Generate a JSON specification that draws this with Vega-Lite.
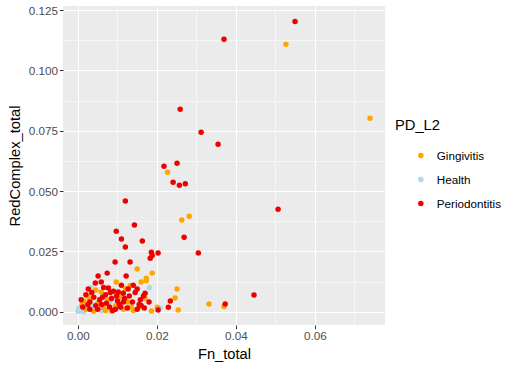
{
  "$schema": "https://vega.github.io/schema/vega-lite/v6.json",
  "width": 322,
  "height": 319,
  "autosize": {"type": "none"},
  "padding": {"left": 63, "top": 6, "right": 136, "bottom": 46},
  "background": "white",
  "config": {
    "view": {"fill": "#EBEBEB", "stroke": null},
    "font": "Liberation Sans",
    "axis": {
      "gridColor": "white",
      "domain": false,
      "tickColor": "#333333",
      "tickSize": 3.6,
      "labelColor": "#4D4D4D",
      "labelFontSize": 11.7,
      "labelFont": "Liberation Sans",
      "titleFont": "Liberation Sans",
      "titleFontSize": 14.7,
      "titleFontWeight": "normal",
      "titleColor": "black"
    }
  },
  "data": {
    "values": [
      {"Fn_total": 0.0000, "RedComplex_total": 0.0002, "PD_L2": "Health"},
      {"Fn_total": 0.0005, "RedComplex_total": 0.0008, "PD_L2": "Health"},
      {"Fn_total": 0.0010, "RedComplex_total": 0.0004, "PD_L2": "Health"},
      {"Fn_total": 0.0002, "RedComplex_total": 0.0015, "PD_L2": "Health"},
      {"Fn_total": 0.0035, "RedComplex_total": 0.0029, "PD_L2": "Health"},
      {"Fn_total": 0.0048, "RedComplex_total": 0.0022, "PD_L2": "Health"},
      {"Fn_total": 0.0034, "RedComplex_total": 0.0098, "PD_L2": "Health"},
      {"Fn_total": 0.0181, "RedComplex_total": 0.0099, "PD_L2": "Health"},
      {"Fn_total": 0.0208, "RedComplex_total": 0.0015, "PD_L2": "Health"},
      {"Fn_total": 0.0080, "RedComplex_total": 0.0040, "PD_L2": "Health"},
      {"Fn_total": 0.0110, "RedComplex_total": 0.0015, "PD_L2": "Health"},
      {"Fn_total": 0.0015, "RedComplex_total": 0.0001, "PD_L2": "Health"},
      {"Fn_total": 0.0060, "RedComplex_total": 0.0005, "PD_L2": "Health"},
      {"Fn_total": 0.0090, "RedComplex_total": 0.0062, "PD_L2": "Health"},
      {"Fn_total": 0.0130, "RedComplex_total": 0.0030, "PD_L2": "Health"},
      {"Fn_total": 0.0010, "RedComplex_total": 0.0030, "PD_L2": "Gingivitis"},
      {"Fn_total": 0.0020, "RedComplex_total": 0.0010, "PD_L2": "Gingivitis"},
      {"Fn_total": 0.0030, "RedComplex_total": 0.0050, "PD_L2": "Gingivitis"},
      {"Fn_total": 0.0040, "RedComplex_total": 0.0002, "PD_L2": "Gingivitis"},
      {"Fn_total": 0.0050, "RedComplex_total": 0.0035, "PD_L2": "Gingivitis"},
      {"Fn_total": 0.0059, "RedComplex_total": 0.0082, "PD_L2": "Gingivitis"},
      {"Fn_total": 0.0065, "RedComplex_total": 0.0015, "PD_L2": "Gingivitis"},
      {"Fn_total": 0.0075, "RedComplex_total": 0.0050, "PD_L2": "Gingivitis"},
      {"Fn_total": 0.0085, "RedComplex_total": 0.0002, "PD_L2": "Gingivitis"},
      {"Fn_total": 0.0095, "RedComplex_total": 0.0025, "PD_L2": "Gingivitis"},
      {"Fn_total": 0.0097, "RedComplex_total": 0.0123, "PD_L2": "Gingivitis"},
      {"Fn_total": 0.0105, "RedComplex_total": 0.0060, "PD_L2": "Gingivitis"},
      {"Fn_total": 0.0115, "RedComplex_total": 0.0010, "PD_L2": "Gingivitis"},
      {"Fn_total": 0.0125, "RedComplex_total": 0.0040, "PD_L2": "Gingivitis"},
      {"Fn_total": 0.0132, "RedComplex_total": 0.0109, "PD_L2": "Gingivitis"},
      {"Fn_total": 0.0140, "RedComplex_total": 0.0005, "PD_L2": "Gingivitis"},
      {"Fn_total": 0.0150, "RedComplex_total": 0.0177, "PD_L2": "Gingivitis"},
      {"Fn_total": 0.0155, "RedComplex_total": 0.0020, "PD_L2": "Gingivitis"},
      {"Fn_total": 0.0173, "RedComplex_total": 0.0139, "PD_L2": "Gingivitis"},
      {"Fn_total": 0.0173, "RedComplex_total": 0.0128, "PD_L2": "Gingivitis"},
      {"Fn_total": 0.0160, "RedComplex_total": 0.0123, "PD_L2": "Gingivitis"},
      {"Fn_total": 0.0188, "RedComplex_total": 0.0160, "PD_L2": "Gingivitis"},
      {"Fn_total": 0.0186, "RedComplex_total": 0.0003, "PD_L2": "Gingivitis"},
      {"Fn_total": 0.0201, "RedComplex_total": 0.0019, "PD_L2": "Gingivitis"},
      {"Fn_total": 0.0251, "RedComplex_total": 0.0094, "PD_L2": "Gingivitis"},
      {"Fn_total": 0.0246, "RedComplex_total": 0.0057, "PD_L2": "Gingivitis"},
      {"Fn_total": 0.0254, "RedComplex_total": 0.0007, "PD_L2": "Gingivitis"},
      {"Fn_total": 0.0332, "RedComplex_total": 0.0032, "PD_L2": "Gingivitis"},
      {"Fn_total": 0.0370, "RedComplex_total": 0.0022, "PD_L2": "Gingivitis"},
      {"Fn_total": 0.0227, "RedComplex_total": 0.0578, "PD_L2": "Gingivitis"},
      {"Fn_total": 0.0263, "RedComplex_total": 0.0380, "PD_L2": "Gingivitis"},
      {"Fn_total": 0.0282, "RedComplex_total": 0.0396, "PD_L2": "Gingivitis"},
      {"Fn_total": 0.0527, "RedComplex_total": 0.1108, "PD_L2": "Gingivitis"},
      {"Fn_total": 0.0740, "RedComplex_total": 0.0802, "PD_L2": "Gingivitis"},
      {"Fn_total": 0.0025, "RedComplex_total": 0.0065, "PD_L2": "Gingivitis"},
      {"Fn_total": 0.0045, "RedComplex_total": 0.0090, "PD_L2": "Gingivitis"},
      {"Fn_total": 0.0070, "RedComplex_total": 0.0005, "PD_L2": "Gingivitis"},
      {"Fn_total": 0.0110, "RedComplex_total": 0.0075, "PD_L2": "Gingivitis"},
      {"Fn_total": 0.0135, "RedComplex_total": 0.0020, "PD_L2": "Gingivitis"},
      {"Fn_total": 0.0015, "RedComplex_total": 0.0045, "PD_L2": "Gingivitis"},
      {"Fn_total": 0.0170, "RedComplex_total": 0.0055, "PD_L2": "Gingivitis"},
      {"Fn_total": 0.0120, "RedComplex_total": 0.0095, "PD_L2": "Gingivitis"},
      {"Fn_total": 0.0550, "RedComplex_total": 0.1203, "PD_L2": "Periodontitis"},
      {"Fn_total": 0.0370, "RedComplex_total": 0.1129, "PD_L2": "Periodontitis"},
      {"Fn_total": 0.0259, "RedComplex_total": 0.0839, "PD_L2": "Periodontitis"},
      {"Fn_total": 0.0312, "RedComplex_total": 0.0744, "PD_L2": "Periodontitis"},
      {"Fn_total": 0.0355, "RedComplex_total": 0.0694, "PD_L2": "Periodontitis"},
      {"Fn_total": 0.0218, "RedComplex_total": 0.0603, "PD_L2": "Periodontitis"},
      {"Fn_total": 0.0251, "RedComplex_total": 0.0615, "PD_L2": "Periodontitis"},
      {"Fn_total": 0.0241, "RedComplex_total": 0.0537, "PD_L2": "Periodontitis"},
      {"Fn_total": 0.0257, "RedComplex_total": 0.0524, "PD_L2": "Periodontitis"},
      {"Fn_total": 0.0272, "RedComplex_total": 0.0530, "PD_L2": "Periodontitis"},
      {"Fn_total": 0.0507, "RedComplex_total": 0.0425, "PD_L2": "Periodontitis"},
      {"Fn_total": 0.0163, "RedComplex_total": 0.0293, "PD_L2": "Periodontitis"},
      {"Fn_total": 0.0269, "RedComplex_total": 0.0309, "PD_L2": "Periodontitis"},
      {"Fn_total": 0.0186, "RedComplex_total": 0.0247, "PD_L2": "Periodontitis"},
      {"Fn_total": 0.0188, "RedComplex_total": 0.0233, "PD_L2": "Periodontitis"},
      {"Fn_total": 0.0183, "RedComplex_total": 0.0222, "PD_L2": "Periodontitis"},
      {"Fn_total": 0.0203, "RedComplex_total": 0.0243, "PD_L2": "Periodontitis"},
      {"Fn_total": 0.0305, "RedComplex_total": 0.0243, "PD_L2": "Periodontitis"},
      {"Fn_total": 0.0170, "RedComplex_total": 0.0077, "PD_L2": "Periodontitis"},
      {"Fn_total": 0.0166, "RedComplex_total": 0.0065, "PD_L2": "Periodontitis"},
      {"Fn_total": 0.0234, "RedComplex_total": 0.0044, "PD_L2": "Periodontitis"},
      {"Fn_total": 0.0229, "RedComplex_total": 0.0019, "PD_L2": "Periodontitis"},
      {"Fn_total": 0.0373, "RedComplex_total": 0.0032, "PD_L2": "Periodontitis"},
      {"Fn_total": 0.0446, "RedComplex_total": 0.0069, "PD_L2": "Periodontitis"},
      {"Fn_total": 0.0203, "RedComplex_total": 0.0007, "PD_L2": "Periodontitis"},
      {"Fn_total": 0.0168, "RedComplex_total": 0.0015, "PD_L2": "Periodontitis"},
      {"Fn_total": 0.0160, "RedComplex_total": 0.0026, "PD_L2": "Periodontitis"},
      {"Fn_total": 0.0120, "RedComplex_total": 0.0459, "PD_L2": "Periodontitis"},
      {"Fn_total": 0.0143, "RedComplex_total": 0.0359, "PD_L2": "Periodontitis"},
      {"Fn_total": 0.0097, "RedComplex_total": 0.0334, "PD_L2": "Periodontitis"},
      {"Fn_total": 0.0110, "RedComplex_total": 0.0301, "PD_L2": "Periodontitis"},
      {"Fn_total": 0.0120, "RedComplex_total": 0.0268, "PD_L2": "Periodontitis"},
      {"Fn_total": 0.0094, "RedComplex_total": 0.0206, "PD_L2": "Periodontitis"},
      {"Fn_total": 0.0132, "RedComplex_total": 0.0206, "PD_L2": "Periodontitis"},
      {"Fn_total": 0.0074, "RedComplex_total": 0.0160, "PD_L2": "Periodontitis"},
      {"Fn_total": 0.0051, "RedComplex_total": 0.0148, "PD_L2": "Periodontitis"},
      {"Fn_total": 0.0122, "RedComplex_total": 0.0148, "PD_L2": "Periodontitis"},
      {"Fn_total": 0.0059, "RedComplex_total": 0.0123, "PD_L2": "Periodontitis"},
      {"Fn_total": 0.0044, "RedComplex_total": 0.0119, "PD_L2": "Periodontitis"},
      {"Fn_total": 0.0127, "RedComplex_total": 0.0094, "PD_L2": "Periodontitis"},
      {"Fn_total": 0.0150, "RedComplex_total": 0.0094, "PD_L2": "Periodontitis"},
      {"Fn_total": 0.0026, "RedComplex_total": 0.0094, "PD_L2": "Periodontitis"},
      {"Fn_total": 0.0077, "RedComplex_total": 0.0098, "PD_L2": "Periodontitis"},
      {"Fn_total": 0.0102, "RedComplex_total": 0.0082, "PD_L2": "Periodontitis"},
      {"Fn_total": 0.0115, "RedComplex_total": 0.0077, "PD_L2": "Periodontitis"},
      {"Fn_total": 0.0020, "RedComplex_total": 0.0070, "PD_L2": "Periodontitis"},
      {"Fn_total": 0.0030, "RedComplex_total": 0.0040, "PD_L2": "Periodontitis"},
      {"Fn_total": 0.0040, "RedComplex_total": 0.0060, "PD_L2": "Periodontitis"},
      {"Fn_total": 0.0050, "RedComplex_total": 0.0010, "PD_L2": "Periodontitis"},
      {"Fn_total": 0.0055, "RedComplex_total": 0.0050, "PD_L2": "Periodontitis"},
      {"Fn_total": 0.0060, "RedComplex_total": 0.0030, "PD_L2": "Periodontitis"},
      {"Fn_total": 0.0070, "RedComplex_total": 0.0070, "PD_L2": "Periodontitis"},
      {"Fn_total": 0.0080, "RedComplex_total": 0.0020, "PD_L2": "Periodontitis"},
      {"Fn_total": 0.0085, "RedComplex_total": 0.0055, "PD_L2": "Periodontitis"},
      {"Fn_total": 0.0090, "RedComplex_total": 0.0085, "PD_L2": "Periodontitis"},
      {"Fn_total": 0.0095, "RedComplex_total": 0.0010, "PD_L2": "Periodontitis"},
      {"Fn_total": 0.0100, "RedComplex_total": 0.0045, "PD_L2": "Periodontitis"},
      {"Fn_total": 0.0105, "RedComplex_total": 0.0030, "PD_L2": "Periodontitis"},
      {"Fn_total": 0.0110, "RedComplex_total": 0.0110, "PD_L2": "Periodontitis"},
      {"Fn_total": 0.0118, "RedComplex_total": 0.0055, "PD_L2": "Periodontitis"},
      {"Fn_total": 0.0125, "RedComplex_total": 0.0015, "PD_L2": "Periodontitis"},
      {"Fn_total": 0.0130, "RedComplex_total": 0.0065, "PD_L2": "Periodontitis"},
      {"Fn_total": 0.0138, "RedComplex_total": 0.0040, "PD_L2": "Periodontitis"},
      {"Fn_total": 0.0145, "RedComplex_total": 0.0080, "PD_L2": "Periodontitis"},
      {"Fn_total": 0.0150, "RedComplex_total": 0.0010, "PD_L2": "Periodontitis"},
      {"Fn_total": 0.0158, "RedComplex_total": 0.0050, "PD_L2": "Periodontitis"},
      {"Fn_total": 0.0008, "RedComplex_total": 0.0050, "PD_L2": "Periodontitis"},
      {"Fn_total": 0.0012, "RedComplex_total": 0.0020, "PD_L2": "Periodontitis"},
      {"Fn_total": 0.0035, "RedComplex_total": 0.0080, "PD_L2": "Periodontitis"},
      {"Fn_total": 0.0065, "RedComplex_total": 0.0100, "PD_L2": "Periodontitis"},
      {"Fn_total": 0.0072, "RedComplex_total": 0.0035, "PD_L2": "Periodontitis"},
      {"Fn_total": 0.0088, "RedComplex_total": 0.0005, "PD_L2": "Periodontitis"},
      {"Fn_total": 0.0098, "RedComplex_total": 0.0065, "PD_L2": "Periodontitis"},
      {"Fn_total": 0.0108, "RedComplex_total": 0.0020, "PD_L2": "Periodontitis"},
      {"Fn_total": 0.0030, "RedComplex_total": 0.0010, "PD_L2": "Periodontitis"},
      {"Fn_total": 0.0045, "RedComplex_total": 0.0025, "PD_L2": "Periodontitis"},
      {"Fn_total": 0.0062, "RedComplex_total": 0.0060, "PD_L2": "Periodontitis"},
      {"Fn_total": 0.0140, "RedComplex_total": 0.0110, "PD_L2": "Periodontitis"},
      {"Fn_total": 0.0155, "RedComplex_total": 0.0030, "PD_L2": "Periodontitis"},
      {"Fn_total": 0.0180, "RedComplex_total": 0.0040, "PD_L2": "Periodontitis"},
      {"Fn_total": 0.0115, "RedComplex_total": 0.0040, "PD_L2": "Periodontitis"},
      {"Fn_total": 0.0082, "RedComplex_total": 0.0080, "PD_L2": "Periodontitis"},
      {"Fn_total": 0.0025, "RedComplex_total": 0.0030, "PD_L2": "Periodontitis"}
    ]
  },
  "layer": [
    {
      "mark": {"type": "point", "opacity": 0},
      "encoding": {
        "x": {"field": "Fn_total", "type": "quantitative",
              "scale": {"domain": [-0.0038, 0.0778], "nice": false, "zero": false},
              "axis": {"values": [0.01, 0.03, 0.05, 0.07], "orient": "bottom", "grid": true, "gridWidth": 0.55, "labels": false, "ticks": false, "title": null, "domain": false}},
        "y": {"field": "RedComplex_total", "type": "quantitative",
              "scale": {"domain": [-0.0055, 0.1267], "nice": false, "zero": false},
              "axis": {"values": [0.0125, 0.0375, 0.0625, 0.0875, 0.1125], "orient": "left", "grid": true, "gridWidth": 0.55, "labels": false, "ticks": false, "title": null, "domain": false}}
      }
    },
    {
      "mark": {"type": "circle", "size": 30, "opacity": 1},
      "encoding": {
        "x": {"field": "Fn_total", "type": "quantitative",
              "axis": {"values": [0, 0.02, 0.04, 0.06], "format": ".2f", "grid": true, "gridWidth": 1.1, "title": "Fn_total", "labelPadding": 2, "titlePadding": 4, "orient": "bottom"}},
        "y": {"field": "RedComplex_total", "type": "quantitative",
              "axis": {"values": [0, 0.025, 0.05, 0.075, 0.1, 0.125], "format": ".3f", "grid": true, "gridWidth": 1.1, "title": "RedComplex_total", "labelPadding": 2, "titlePadding": 6, "orient": "left"}},
        "color": {"field": "PD_L2", "type": "nominal",
                  "scale": {"domain": ["Gingivitis", "Health", "Periodontitis"], "range": ["#FFA500", "#ADD8E6", "#EE0000"]},
                  "legend": {"title": "PD_L2", "orient": "none", "legendX": 332, "legendY": 112,
                             "titleFontSize": 14.7, "titleFontWeight": "normal", "titleColor": "black", "titleFont": "Liberation Sans", "titlePadding": 17,
                             "labelFontSize": 11.7, "labelColor": "black", "labelFont": "Liberation Sans", "labelOffset": 10, "labelLimit": 200,
                             "symbolType": "circle", "symbolSize": 30, "symbolOffset": 20, "symbolStrokeWidth": 0, "rowPadding": 11}}
      }
    }
  ],
  "resolve": {"axis": {"x": "independent", "y": "independent"}}
}
